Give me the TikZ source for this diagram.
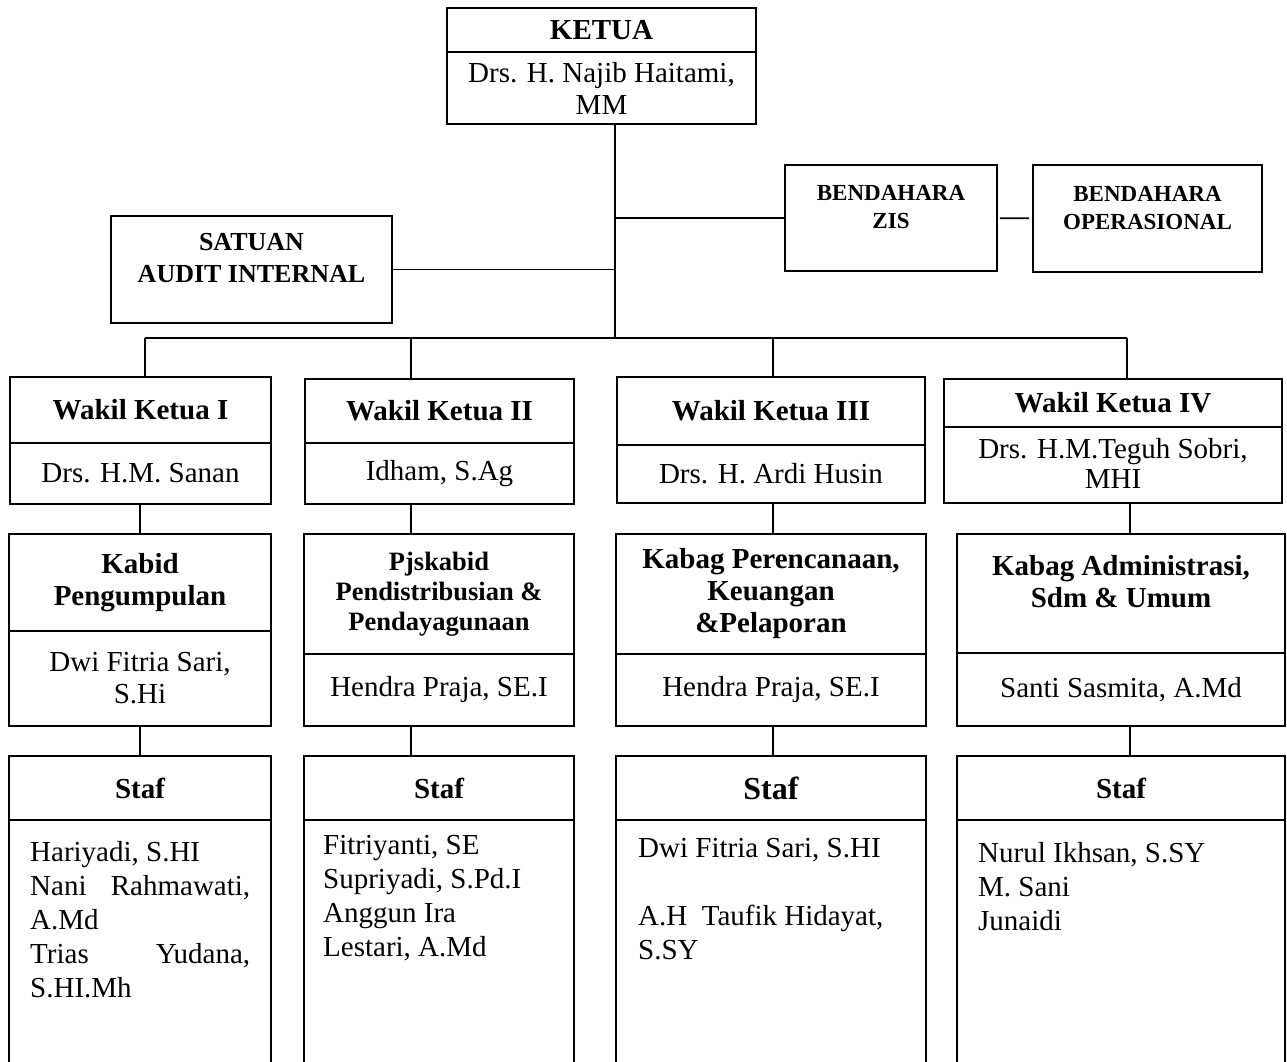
\documentclass[tikz,border=0pt]{standalone}
\usepackage{fontspec}
\setmainfont{Liberation Serif}

\begin{document}
\begin{tikzpicture}[x=1pt, y=-1pt,
    bx/.style={rectangle, draw, line width=1.6pt, inner sep=0pt, align=center, font=\fontsize{29}{32}\selectfont},
    hdr/.style={bx, font=\fontsize{29}{32}\selectfont\bfseries},
    tr/.style={bx, font=\fontsize{23}{28}\selectfont\bfseries},
    sz/.style 2 args={minimum width=#1pt, minimum height=#2pt},
    nm/.style={anchor=north west, inner sep=0pt, align=left, font=\fontsize{29}{34}\selectfont},
    cn/.style={line width=1.6pt}
]
    \useasboundingbox (0,0) rectangle (1287,1062);
    \clip (0,0) rectangle (1287,1062);

    \node[hdr, sz={309}{44}] (ketua)   at (601.5,30) {KETUA};
    \node[bx,  sz={309}{72}] (ketua-n) at (601.5,88) {Drs. H. Najib Haitami,\\MM};
    \node[hdr, sz={281}{107}, font=\fontsize{26}{32}\selectfont\bfseries] (sai) at (251.5,269.5) {SATUAN\\AUDIT INTERNAL\\[-8pt]~};
    \node[tr,  sz={212}{106}] (zis) at (891,218)    {BENDAHARA\\ZIS\\[-6pt]~};
    \node[tr,  sz={229}{107}] (ops) at (1147.5,218.5) {BENDAHARA\\OPERASIONAL\\[-6pt]~};

    \node[hdr, sz={261}{66}] (wk1)   at (140.5,410)   {Wakil Ketua I};
    \node[bx,  sz={261}{61}] (wk1-n) at (140.5,473.5) {Drs. H.M. Sanan};
    \node[hdr, sz={269}{64}] (wk2)   at (439.5,411)   {Wakil Ketua II};
    \node[bx,  sz={269}{61}] (wk2-n) at (439.5,473.5) {Idham, S.Ag};
    \node[hdr, sz={308}{68}] (wk3)   at (771,411)     {Wakil Ketua III};
    \node[bx,  sz={308}{58}] (wk3-n) at (771,474)     {Drs. H. Ardi Husin};
    \node[hdr, sz={338}{48}] (wk4)   at (1113,403)    {Wakil Ketua IV};
    \node[bx,  sz={338}{76}, font=\fontsize{29}{30}\selectfont] (wk4-n) at (1113,465) {Drs. H.M.Teguh Sobri,\\MHI\\[-26pt]~};

    \node[hdr, sz={262}{97}]  (kb1)   at (140,582.5) {Kabid\\Pengumpulan};
    \node[bx,  sz={262}{95}]  (kb1-n) at (140,678.5) {Dwi Fitria Sari,\\S.Hi};
    \node[hdr, sz={270}{120}, font=\fontsize{26.5}{30}\selectfont\bfseries] (kb2) at (439,594) {Pjskabid\\Pendistribusian \&\\Pendayagunaan};
    \node[bx,  sz={270}{72}]  (kb2-n) at (439,690)   {Hendra Praja, SE.I};
    \node[hdr, sz={310}{120}] (kb3)   at (771,594)   {Kabag Perencanaan,\\Keuangan\\\&Pelaporan};
    \node[bx,  sz={310}{72}]  (kb3-n) at (771,690)   {Hendra Praja, SE.I};
    \node[hdr, sz={328}{119}] (kb4)   at (1121,593.5) {Kabag Administrasi,\\Sdm \& Umum\\[-8pt]~};
    \node[bx,  sz={328}{73}]  (kb4-n) at (1121,689.5) {Santi Sasmita, A.Md};

    \node[hdr, sz={262}{64}]  (st1)   at (140,788)  {Staf};
    \node[bx,  sz={262}{260}] (st1-n) at (140,950)  {};
    \node[hdr, sz={270}{64}]  (st2)   at (439,788)  {Staf};
    \node[bx,  sz={270}{260}] (st2-n) at (439,950)  {};
    \node[hdr, sz={310}{64}, font=\fontsize{32}{34}\selectfont\bfseries] (st3) at (771,788) {Staf};
    \node[bx,  sz={310}{260}] (st3-n) at (771,950)  {};
    \node[hdr, sz={328}{64}]  (st4)   at (1121,788) {Staf};
    \node[bx,  sz={328}{260}] (st4-n) at (1121,950) {};

    \node[nm] (st1-l) at (30,841)  {Hariyadi, S.HI\\\makebox[220pt][s]{Nani Rahmawati,}\\A.Md\\\makebox[220pt][s]{Trias Yudana,}\\S.HI.Mh};
    \node[nm] (st2-l) at (323,835) {Fitriyanti, SE\\Supriyadi, S.Pd.I\\Anggun Ira\\Lestari, A.Md};
    \node[nm] (st3-l) at (638,838) {Dwi Fitria Sari, S.HI\\~\\A.H\ \ Taufik Hidayat,\\S.SY};
    \node[nm] (st4-l) at (978,842) {Nurul Ikhsan, S.SY\\M. Sani\\Junaidi};

    \coordinate (jn) at (615,338);
    \coordinate (d1) at (145,338);
    \coordinate (d2) at (411,338);
    \coordinate (d3) at (773,338);
    \coordinate (d4) at (1127,338);
    \coordinate (v1) at (140,0);
    \coordinate (v2) at (411,0);
    \coordinate (v3) at (773,0);
    \coordinate (v4) at (1130,0);

    \draw[cn] (ketua-n.south -| jn) -- (jn);
    \draw[cn] (sai) -- (sai -| jn);
    \draw[cn] (zis) -- (zis -| jn);
    \draw[cn, shorten <=2pt, shorten >=3pt] (zis) -- (ops);
    \draw[cn] (d1) -- (d4);
    \draw[cn] (d1) -- (d1 |- wk1.north);
    \draw[cn] (d2) -- (d2 |- wk2.north);
    \draw[cn] (d3) -- (d3 |- wk3.north);
    \draw[cn] (d4) -- (d4 |- wk4.north);
    \draw[cn] (wk1-n.south -| v1) -- (kb1.north -| v1);
    \draw[cn] (wk2-n.south -| v2) -- (kb2.north -| v2);
    \draw[cn] (wk3-n.south -| v3) -- (kb3.north -| v3);
    \draw[cn] (wk4-n.south -| v4) -- (kb4.north -| v4);
    \draw[cn] (kb1-n.south -| v1) -- (st1.north -| v1);
    \draw[cn] (kb2-n.south -| v2) -- (st2.north -| v2);
    \draw[cn] (kb3-n.south -| v3) -- (st3.north -| v3);
    \draw[cn] (kb4-n.south -| v4) -- (st4.north -| v4);
\end{tikzpicture}
\end{document}
